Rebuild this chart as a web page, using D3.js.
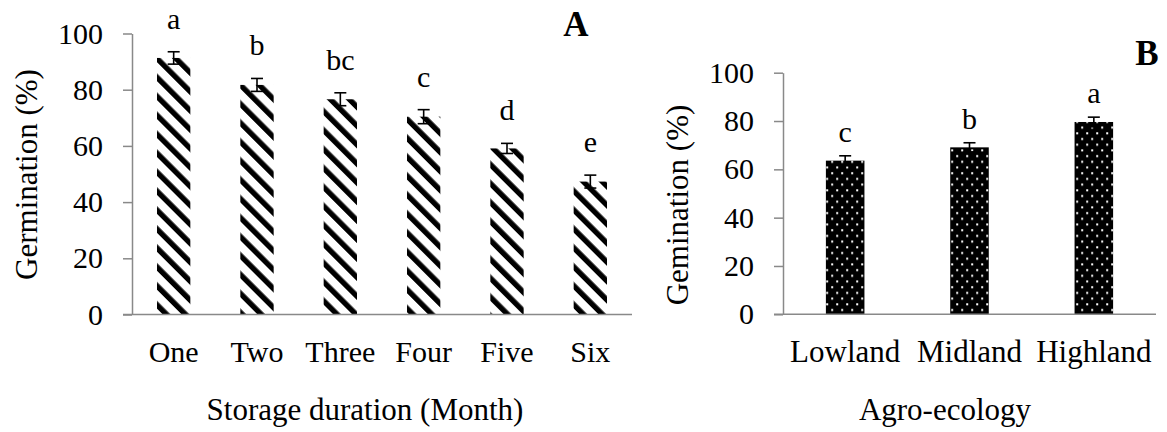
<!DOCTYPE html>
<html>
<head>
<meta charset="utf-8">
<script src="https://cdn.jsdelivr.net/npm/d3@7"></script>
<style>
  body { margin: 0; background: #fff; }
  svg text { font-family: "Liberation Serif", "Times New Roman", serif; fill: #000; }
</style>
</head>
<body>
<div id="chart"></div>
<script>
// panel A: storage duration
const months = ['One', 'Two', 'Three', 'Four', 'Five', 'Six'];
const monthMean = [91.3, 81.7, 76.6, 70.4, 59.1, 47.3];
const monthErr = [2.2, 2.3, 2.3, 2.5, 1.8, 2.3];
const monthLetters = ['a', 'b', 'bc', 'c', 'd', 'e'];

// panel B: agro-ecology
const zones = ['Lowland', 'Midland', 'Highland'];
const zoneMean = [63.6, 69.1, 79.6];
const zoneErr = [2.0, 1.9, 2.0];
const zoneLetters = ['c', 'b', 'a'];

const yTicks = [0, 20, 40, 60, 80, 100];

const width = 1167, height = 432;
const axisGrey = '#898989';

const svg = d3.select('#chart').append('svg')
  .attr('width', width)
  .attr('height', height);

const defs = svg.append('defs');

const hatch = defs.append('pattern')
  .attr('id', 'hatch')
  .attr('patternUnits', 'userSpaceOnUse')
  .attr('width', 13.4)
  .attr('height', 13.4)
  .attr('patternTransform', 'rotate(-45)');
hatch.append('rect').attr('width', 13.4).attr('height', 13.4).attr('fill', '#fff');
hatch.append('rect').attr('width', 5.4).attr('height', 13.4).attr('fill', '#000');

const dots = defs.append('pattern')
  .attr('id', 'dots')
  .attr('patternUnits', 'userSpaceOnUse')
  .attr('width', 10)
  .attr('height', 11.4);
dots.append('rect').attr('width', 10).attr('height', 11.4).attr('fill', '#000');
dots.append('rect').attr('x', 1.2).attr('y', 1.2).attr('width', 2).attr('height', 2).attr('fill', '#fff');
dots.append('rect').attr('x', 6.2).attr('y', 6.9).attr('width', 2).attr('height', 2).attr('fill', '#fff');

function panel(opt) {
  const g = svg.append('g');
  const data = opt.cats.map((c, i) => ({cat: c, mean: opt.mean[i], err: opt.err[i], letter: opt.letters[i]}));

  const x = d3.scaleBand()
    .domain(opt.cats)
    .range(opt.xRange)
    .paddingInner(opt.pad)
    .paddingOuter(opt.pad / 2);

  const y = d3.scaleLinear()
    .domain([0, 100])
    .range(opt.yRange);

  // bars
  g.append('g')
    .selectAll('rect')
    .data(data)
    .join('rect')
    .attr('x', d => x(d.cat))
    .attr('y', d => y(d.mean))
    .attr('width', x.bandwidth())
    .attr('height', d => y(0) - y(d.mean))
    .attr('fill', opt.fill);

  // y axis
  const yAxis = g.append('g')
    .attr('transform', `translate(${opt.xRange[0]},0)`)
    .call(d3.axisLeft(y).tickValues(yTicks).tickSize(9).tickSizeOuter(0).tickPadding(20));
  yAxis.selectAll('path, line').attr('stroke', axisGrey).attr('stroke-width', 1.5);
  yAxis.selectAll('text')
    .attr('font-size', '30px')
    .attr('fill', '#000');

  // x axis line (starts at the tick end, like the original)
  g.append('line')
    .attr('x1', opt.xRange[0] - 9)
    .attr('x2', opt.xRange[1])
    .attr('y1', y(0))
    .attr('y2', y(0))
    .attr('stroke', axisGrey)
    .attr('stroke-width', 1.5);

  // x tick labels
  g.append('g')
    .selectAll('text')
    .data(data)
    .join('text')
    .attr('x', d => x(d.cat) + x.bandwidth() / 2)
    .attr('y', 362)
    .attr('text-anchor', 'middle')
    .attr('font-size', opt.tickFont)
    .text(d => d.cat);

  // error bars
  const eb = g.append('g').attr('stroke', '#000').attr('stroke-width', 1.6);
  eb.selectAll('.stem')
    .data(data)
    .join('line')
    .attr('class', 'stem')
    .attr('x1', d => x(d.cat) + x.bandwidth() / 2)
    .attr('x2', d => x(d.cat) + x.bandwidth() / 2)
    .attr('y1', d => y(d.mean - d.err))
    .attr('y2', d => y(d.mean + d.err));
  ['top', 'bot'].forEach(k => {
    eb.selectAll('.' + k)
      .data(data)
      .join('line')
      .attr('class', k)
      .attr('x1', d => x(d.cat) + x.bandwidth() / 2 - 6)
      .attr('x2', d => x(d.cat) + x.bandwidth() / 2 + 6)
      .attr('y1', d => y(k == 'top' ? d.mean + d.err : d.mean - d.err))
      .attr('y2', d => y(k == 'top' ? d.mean + d.err : d.mean - d.err));
  });

  // significance letters
  g.append('g')
    .selectAll('text')
    .data(data)
    .join('text')
    .attr('x', d => x(d.cat) + x.bandwidth() / 2)
    .attr('y', d => y(d.mean + d.err) - opt.letterGap)
    .attr('text-anchor', 'middle')
    .attr('font-size', '30px')
    .text(d => d.letter);

  // axis titles
  g.append('text')
    .attr('transform', `translate(${opt.yTitlePos[0]},${opt.yTitlePos[1]}) rotate(-90)`)
    .attr('text-anchor', 'middle')
    .attr('font-size', '31px')
    .text(opt.yTitle);

  g.append('text')
    .attr('x', opt.xTitleX)
    .attr('y', 420)
    .attr('text-anchor', 'middle')
    .attr('font-size', '31px')
    .text(opt.xTitle);

  g.append('text')
    .attr('x', opt.tag[0])
    .attr('y', opt.tag[1])
    .attr('text-anchor', 'middle')
    .attr('font-size', '35px')
    .attr('font-weight', 'bold')
    .text(opt.tagText);
}

panel({
  cats: months, mean: monthMean, err: monthErr, letters: monthLetters,
  xRange: [132, 632], yRange: [314.5, 33.5], pad: 0.6,
  fill: 'url(#hatch)', tickFont: '30px', letterGap: 23,
  yTitle: 'Germination (%)', yTitlePos: [36.5, 174.5],
  xTitle: 'Storage duration (Month)', xTitleX: 365,
  tag: [576, 36], tagText: 'A'
});

panel({
  cats: zones, mean: zoneMean, err: zoneErr, letters: zoneLetters,
  xRange: [783, 1156], yRange: [314.3, 72.7], pad: 0.69,
  fill: 'url(#dots)', tickFont: '31px', letterGap: 14,
  yTitle: 'Gemination (%)', yTitlePos: [688, 205],
  xTitle: 'Agro-ecology', xTitleX: 945,
  tag: [1147, 65], tagText: 'B'
});
</script>
</body>
</html>
